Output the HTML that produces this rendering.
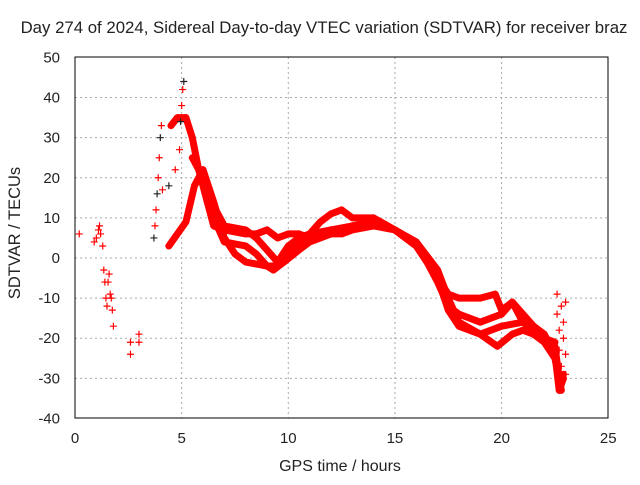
<!DOCTYPE html>
<html><head><meta charset="utf-8"><style>
html,body{margin:0;padding:0;background:#fff}
svg text{font-family:"Liberation Sans",sans-serif;font-size:15px;fill:#222}
</style></head><body>
<svg id="chart" width="640" height="480" xmlns="http://www.w3.org/2000/svg">
<text x="324" y="33" text-anchor="middle" style="font-size:16.8px">Day 274 of 2024, Sidereal Day-to-day VTEC variation (SDTVAR) for receiver braz</text>
<text x="340" y="471" text-anchor="middle" style="font-size:16px">GPS time / hours</text>
<text x="20" y="233" text-anchor="middle" transform="rotate(-90 20 233)" style="font-size:16.5px">SDTVAR / TECUs</text>
<g id="grid"></g><g id="axes"></g><g id="marks"></g>
</svg>
<script>
const xTicks=[0,5,10,15,20,25];
const yTicks=[-40,-30,-20,-10,0,10,20,30,40,50];
const scatter=[[0.2,6],[0.9,4],[1.0,5],[1.1,7],[1.15,8],[1.2,6],[1.3,3],[1.35,-3],[1.4,-6],[1.45,-10],[1.5,-12],[1.55,-6],[1.6,-4],[1.65,-9],[1.7,-10],[1.75,-13],[1.8,-17],[2.6,-21],[2.6,-24],[3.0,-19],[3.0,-21]];
const rise=[[3.7,5],[3.75,8],[3.8,12],[3.85,16],[3.9,20],[3.95,25],[4.0,30],[4.05,33],[4.1,17],[4.4,18],[4.7,22],[4.9,27],[4.95,34],[5.0,38],[5.05,42],[5.1,44]];
const trackA=[[4.5,33],[4.8,35],[5.2,35],[5.5,30],[5.8,22],[6.2,14],[6.5,8],[7,7],[8,6],[8.5,6],[9,7],[9.5,5],[10,6],[10.5,6],[11,5],[11.5,6],[12,7],[12.5,7],[13,8],[14,9],[15,7],[15.5,5],[16,3],[16.5,0],[17,-5],[17.5,-9],[18,-10],[19,-10],[19.7,-9],[20,-13],[20.5,-11],[21,-14],[22,-20],[22.5,-21]];
const trackB=[[4.4,3],[5.2,9],[5.6,18],[6,22],[6.5,14],[7,5],[7.5,1],[8,-1],[9,-2],[9.5,-2],[10,1],[10.5,3],[11,6],[11.5,9],[12,11],[12.5,12],[13,10],[14,10],[15,7],[16,3],[16.5,-1],[17,-6],[17.5,-12],[18,-14],[19,-16],[20,-14],[20.5,-11],[21,-16],[21.5,-18],[22,-20],[22.5,-22],[22.7,-30],[22.9,-29]];
const trackC=[[5.5,25],[6,20],[6.5,10],[7,4],[8,3],[8.5,1],[9,-2],[9.3,-3],[9.8,-1],[10.5,2],[11,4],[12,6],[12.5,6],[13,7],[14,8],[15,7],[16,3],[17,-5],[17.5,-13],[18,-17],[19,-19],[20,-17],[21,-16],[21.5,-17],[22,-19],[22.5,-24],[22.7,-33],[22.9,-30]];
const trackD=[[6,22],[6.5,13],[7,8],[8,7],[8.5,5],[9,2],[9.5,-1],[10,3],[10.5,5],[11,6],[12,7],[13,8],[14,9],[15,7],[16,4],[17,-3],[17.5,-10],[18,-16],[19,-19],[19.8,-22],[20.5,-19],[21,-18],[21.5,-19],[22,-21],[22.5,-25],[22.8,-33]];
const tail=[[22.6,-9],[22.6,-14],[22.7,-18],[22.7,-23],[22.8,-12],[22.8,-27],[22.9,-16],[22.9,-20],[23.0,-11],[23.0,-24],[23.0,-29]];
const X=v=>75+v*21.33, Y=v=>258-v*4.011;
const ns="http://www.w3.org/2000/svg";
function mk(tag,attrs,parent){const e=document.createElementNS(ns,tag);for(const k in attrs)e.setAttribute(k,attrs[k]);parent.appendChild(e);return e;}
const grid=document.getElementById('grid'),axes=document.getElementById('axes'),marks=document.getElementById('marks');
xTicks.forEach(t=>{
 if(t>0&&t<25){const g=mk('line',{x1:X(t),x2:X(t),y1:57,y2:418,stroke:'#aaa','stroke-dasharray':'2,3'},grid);}
 const l=mk('text',{x:X(t),y:443,'text-anchor':'middle'},axes);l.textContent=t;
 
 
});
yTicks.forEach(t=>{
 if(t>-40&&t<50){const g=mk('line',{x1:75,x2:608,y1:Y(t),y2:Y(t),stroke:'#aaa','stroke-dasharray':'2,3'},grid);}
 const l=mk('text',{x:60,y:Y(t)+5,'text-anchor':'end'},axes);l.textContent=t;
 
 
});
const frame=mk('rect',{x:75,y:57,width:533,height:361,fill:'none',stroke:'#000'},axes);


[trackA,trackB,trackC,trackD].forEach(tr=>{
 const p=mk('polyline',{points:tr.map(d=>X(d[0])+','+Y(d[1])).join(' '),fill:'none',stroke:'#f00','stroke-width':7,'stroke-linejoin':'round','stroke-linecap':'round'},marks);
 
 
});
function plus(d,color){
 const x=X(d[0]),y=Y(d[1]);
 const p=mk('path',{d:`M${x-3.5},${y}h7M${x},${y-3.5}v7`,stroke:color,'stroke-width':1.2,fill:'none'},marks);
 
 
}
scatter.forEach(d=>plus(d,'#f00'));
rise.forEach((d,i)=>plus(d,i%3===0?'#222':'#f00'));
[trackA,trackB,trackC,trackD,tail].forEach(tr=>tr.forEach(d=>plus(d,'#f00')));
</script>
</body></html>
